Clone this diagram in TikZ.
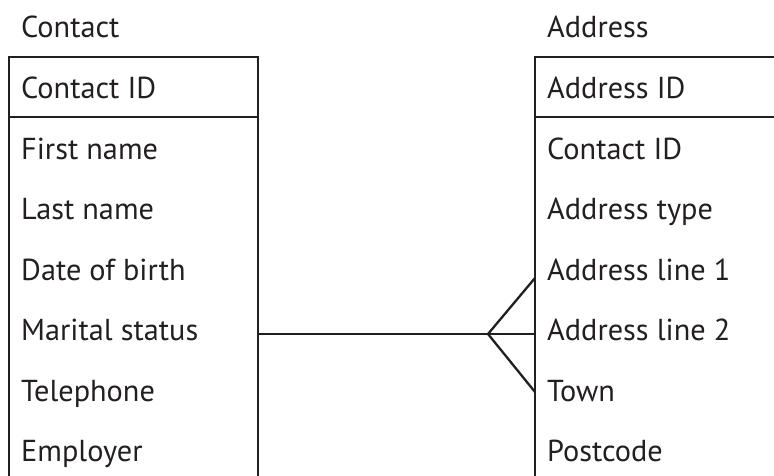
\documentclass[tikz,border=0pt]{standalone}
\usepackage{fontspec}
\setmainfont{PT Sans}
\usetikzlibrary{calc,positioning}
\definecolor{inkgrey}{RGB}{35,31,32}
\tikzset{
    field/.style={anchor=base west, inner sep=0pt, text=inkgrey, font=\fontsize{30.3}{34}\selectfont},
    cell/.style={draw=inkgrey, line width=2.3pt, rectangle, inner sep=0pt, outer sep=0pt, anchor=north west},
}

\begin{document}
\begin{tikzpicture}[x=1pt,y=1pt,yscale=-1,xscale=1]
		\useasboundingbox (0,0) rectangle (774,476);
		\clip (0,0) rectangle (774,476);
		
		% Table Cells
		\node [cell, minimum width=249pt, minimum height=60pt] (contactkey) at (9,57) {};
		\node [cell, minimum width=249pt, minimum height=420pt, below=0pt of contactkey] (contactbody) {};
		\node [cell, minimum width=300pt, minimum height=60pt] (addresskey) at (535,57) {};
		\node [cell, minimum width=300pt, minimum height=420pt, below=0pt of addresskey] (addressbody) {};
		
		% Text Node
		\draw (21,38) node [field] (contacttitle) {Contact};
		\draw (21,99) node [field] (contactid) {Contact ID};
		\draw (21,159.4) node [field] (firstname) {First name};
		\draw (21,219.8) node [field] (lastname) {Last name};
		\draw (21,280.2) node [field] (birthdate) {Date of birth};
		\draw (21,340.6) node [field] (marital) {Marital status};
		\draw (21,401) node [field] (telephone) {Telephone};
		\draw (21,461.4) node [field] (employer) {Employer};
		% Text Node
		\draw (547,38) node [field] (addresstitle) {Address};
		\draw (547,99) node [field] (addressid) {Address ID};
		\draw (547,159.4) node [field] (contactref) {Contact ID};
		\draw (547,219.8) node [field] (addresstype) {Address type};
		\draw (547,280.2) node [field] (lineone) {Address line 1};
		\draw (547,340.6) node [field] (linetwo) {Address line 2};
		\draw (547,401) node [field] (town) {Town};
		\draw (547,461.4) node [field] (postcode) {Postcode};
		
		% Connection
		\coordinate (crowtip) at (488,334);
		\coordinate (crowup) at (addressbody.west |- 0,278);
		\coordinate (crowdown) at (addressbody.west |- 0,392);
		\draw [draw=inkgrey, line width=2.3pt] (contactbody.east |- crowtip) -- (addressbody.west |- crowtip) ;
		\draw [draw=inkgrey, line width=2.3pt] (crowup) -- (crowtip) -- (crowdown) ;
		
\end{tikzpicture}
\end{document}
